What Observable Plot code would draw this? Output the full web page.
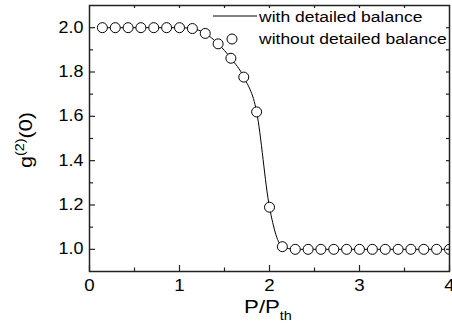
<!DOCTYPE html>
<html><head><meta charset="utf-8">
<script src="https://cdn.jsdelivr.net/npm/d3@7"></script>
<script src="https://cdn.jsdelivr.net/npm/@observablehq/plot@0.6"></script>
<style>body{margin:0;background:#fff;} #chart{width:452px;height:331px;}</style>
</head><body><div id="chart"></div>
<script>
const pump = [0.143, 0.286, 0.429, 0.571, 0.714, 0.857, 1.0, 1.143, 1.286, 1.429, 1.571, 1.714, 1.857, 2.0,
  2.143, 2.286, 2.429, 2.571, 2.714, 2.857, 3.0, 3.143, 3.286, 3.429, 3.571, 3.714, 3.857, 4.0];
const g2 = [2.0, 2.0, 2.0, 2.0, 2.0, 2.0, 2.0, 1.996, 1.974, 1.927, 1.862, 1.777, 1.62, 1.19,
  1.012, 1.0, 1.0, 1.0, 1.0, 1.0, 1.0, 1.0, 1.0, 1.0, 1.0, 1.0, 1.0, 1.0];
const xTickValues = [0, 1, 2, 3, 4];
const xHalfTicks = [0.5, 1.5, 2.5, 3.5];
const xTopTicks = [0.5, 1, 1.5, 2, 2.5, 3, 3.5];
const yTickValues = [1.0, 1.2, 1.4, 1.6, 1.8, 2.0];
const yMinorTicks = [1.1, 1.3, 1.5, 1.7, 1.9];
const yRightTicks = [1.0, 1.1, 1.2, 1.3, 1.4, 1.5, 1.6, 1.7, 1.8, 1.9, 2.0];
const legendLabels = ["with detailed balance", "without detailed balance"];
const xLabelMain = "P/P", xLabelSub = "th";
const yLabelParts = ["g", "(2)", "(0)"];

const W = 452, H = 331, mL = 89, mR = 3, mT = 5, mB = 60;
const plotH = H - mT - mB, plotW = W - mL - mR;
const data = pump.map((x, i) => ({x, y: g2[i]}));
const font = "Arial, 'Liberation Sans', sans-serif";
const ink = "#222";

const chart = Plot.plot({
  width: W, height: H,
  marginLeft: mL, marginRight: mR, marginTop: mT, marginBottom: mB,
  style: {fontFamily: font, background: "#fff", color: "#000", overflow: "visible"},
  x: {domain: [0, 4]},
  y: {domain: [0.9, 2.1]},
  marks: [
    Plot.line(data, {x: "x", y: "y", curve: "monotone-x", stroke: "#000", strokeWidth: 1}),
    Plot.dot(data, {x: "x", y: "y", r: 5, fill: "#fff", stroke: "#000", strokeWidth: 1, clip: true}),
    Plot.tickX(xTickValues, {x: d => d, insetTop: plotH - 6, stroke: ink, strokeWidth: 1.2}),
    Plot.tickX(xHalfTicks, {x: d => d, insetTop: plotH - 3.5, stroke: ink, strokeWidth: 1.2}),
    Plot.tickX(xTopTicks, {x: d => d, insetBottom: plotH - 3, stroke: ink, strokeWidth: 1.2}),
    Plot.tickY(yTickValues, {y: d => d, insetRight: plotW - 6, stroke: ink, strokeWidth: 1.2}),
    Plot.tickY(yMinorTicks, {y: d => d, insetRight: plotW - 4, stroke: ink, strokeWidth: 1.2}),
    Plot.tickY(yRightTicks, {y: d => d, insetLeft: plotW - 3, stroke: ink, strokeWidth: 1.2}),
    Plot.frame({stroke: ink, strokeWidth: 1.5}),
    Plot.axisX(xTickValues, {tickSize: 0, tickPadding: 7, fontSize: 17, label: null, tickFormat: d => String(d)}),
    Plot.axisY(yTickValues, {tickSize: 0, tickPadding: 6, fontSize: 16, label: null, tickFormat: d => d.toFixed(1)})
  ]
});
document.getElementById("chart").appendChild(chart);

const svg = d3.select(chart);
function stretch(sel, k) {
  sel.each(function() {
    const t = this.getAttribute("transform") || "";
    this.setAttribute("transform", t + ` scale(${k},1)`);
  });
}
stretch(svg.selectAll('g[aria-label="x-axis tick label"] text'), 1.1);
stretch(svg.selectAll('g[aria-label="y-axis tick label"] text'), 1.12);

// y-axis label
const yl = svg.append("text")
  .attr("transform", "translate(32,140) rotate(-90) scale(1.2,1)")
  .attr("text-anchor", "middle").attr("font-family", font).attr("font-size", 18).attr("fill", "#000");
yl.append("tspan").text(yLabelParts[0]);
yl.append("tspan").attr("font-size", 12).attr("dy", -8).text(yLabelParts[1]);
yl.append("tspan").attr("font-size", 18).attr("dy", 8).text(yLabelParts[2]);

// x-axis label
const xl = svg.append("text")
  .attr("transform", "translate(268,313) scale(1.2,1)")
  .attr("text-anchor", "middle").attr("font-family", font).attr("font-size", 18.5).attr("fill", "#000");
xl.append("tspan").text(xLabelMain);
xl.append("tspan").attr("font-size", 12).attr("dy", 7).text(xLabelSub);

// legend
const lg = svg.append("g");
lg.append("line").attr("x1", 213).attr("x2", 257).attr("y1", 16).attr("y2", 16).attr("stroke", "#000").attr("stroke-width", 1);
lg.append("circle").attr("cx", 232).attr("cy", 39).attr("r", 5).attr("fill", "#fff").attr("stroke", "#000");
legendLabels.forEach((t, i) => {
  lg.append("text").attr("transform", `translate(259,${22 + i * 22}) scale(1.13,1)`)
    .attr("text-anchor", "start")
    .attr("font-family", font).attr("font-size", 15.5).attr("fill", "#000").text(t);
});
</script></body></html>
